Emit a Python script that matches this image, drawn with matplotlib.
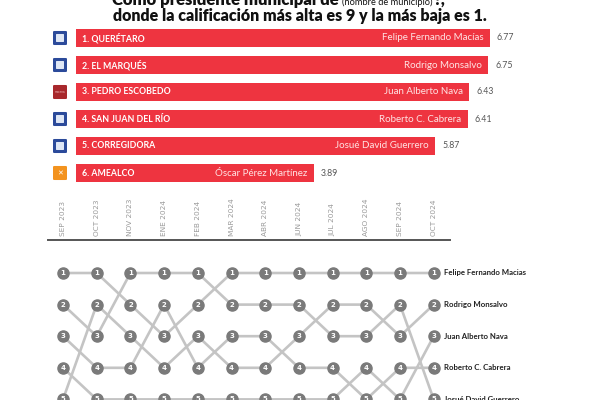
import matplotlib.pyplot as plt
from matplotlib.patches import FancyBboxPatch

# Top part: ranking bars
municipios = ["1. QUERÉTARO", "2. EL MARQUÉS", "3. PEDRO ESCOBEDO",
              "4. SAN JUAN DEL RÍO", "5. CORREGIDORA", "6. AMEALCO"]
presidentes = ["Felipe Fernando Macías", "Rodrigo Monsalvo", "Juan Alberto Nava",
               "Roberto C. Cabrera", "Josué David Guerrero", "Óscar Pérez Martínez"]
calificacion = [6.77, 6.75, 6.43, 6.41, 5.87, 3.89]
partidos = ["PAN", "PAN", "MORENA", "PAN", "PAN", "MC"]

# Bottom part: monthly position (bump chart)
meses = ["SEP 2023", "OCT 2023", "NOV 2023", "ENE 2024", "FEB 2024", "MAR 2024",
         "ABR 2024", "JUN 2024", "JUL 2024", "AGO 2024", "SEP 2024", "OCT 2024"]
nombres = ["Felipe Fernando Macias", "Rodrigo Monsalvo", "Juan Alberto Nava",
           "Roberto C. Cabrera", "Josué David Guerrero"]
pos_felipe = [1, 1, 2, 3, 2, 1, 1, 1, 1, 1, 1, 1]
pos_rodrigo = [5, 2, 3, 4, 3, 4, 4, 3, 2, 2, 3, 2]
pos_juan = [4, 5, 5, 5, 5, 5, 5, 5, 5, 4, 5, 3]
pos_roberto = [3, 4, 4, 2, 4, 3, 3, 4, 4, 5, 4, 4]
pos_josue = [2, 3, 1, 1, 1, 2, 2, 2, 3, 3, 2, 5]
posiciones = [pos_felipe, pos_rodrigo, pos_juan, pos_roberto, pos_josue]

W, H = 600, 400
fig = plt.figure(figsize=(6, 4), dpi=100)
fig.patch.set_facecolor("white")

# title (first line is cut at the top edge)
fig.text(339 / W, 1 - 5 / H, "Como presidente municipal de", family="Lato",
         weight="heavy", fontsize=12, color="#111111", va="baseline", ha="right")
fig.text(342 / W, 1 - 5 / H, "(nombre de municipio)", family="Lato",
         fontsize=6.7, color="#111111", va="baseline", ha="left")
fig.text(433 / W, 1 - 5 / H, "?,", family="Lato", weight="heavy",
         fontsize=12, color="#111111", va="baseline", ha="left")
fig.text(0.5, 1 - 21 / H, "donde la calificación más alta es 9 y la más baja es 1.",
         family="Lato", weight="heavy", fontsize=11.5, color="#111111",
         va="baseline", ha="center")

# --- bars ---
px_unit = 61.1
ax = fig.add_axes([76 / W, 1 - 186.5 / H, (W - 76) / W, 162 / H])
ax.set_xlim(0, (W - 76) / px_unit)
ax.set_ylim(5.5, -0.5)
ax.axis("off")
rojo = "#ee3440"
ax.barh(range(len(calificacion)), calificacion, height=0.64, color=rojo)
colores = {"PAN": ("#2b4a9a", "#dfe7f5"), "MORENA": ("#a8282c", "#d86060"),
           "MC": ("#f3931f", "#ffffff")}
for i in range(len(calificacion)):
    v = calificacion[i]
    ax.text(0.1, i, municipios[i], color="white", fontsize=6.3, weight="bold",
            family="Lato", va="center", ha="left")
    ax.text(v - 0.1, i, presidentes[i], color="#ffe4e4", fontsize=7,
            family="Lato", va="center", ha="right")
    ax.text(v + 0.12, i, f"{v:.2f}", color="#555555", fontsize=6.3,
            family="Lato", va="center", ha="left")
    # party logo
    fondo, interior = colores[partidos[i]]
    x0 = -23 / px_unit
    w = 14 / px_unit
    ax.add_patch(FancyBboxPatch((x0, i - 0.26), w, 0.52,
                                boxstyle="round,pad=0,rounding_size=0.03",
                                fc=fondo, ec="none", clip_on=False))
    if partidos[i] == "PAN":
        ax.add_patch(FancyBboxPatch((x0 + 0.04, i - 0.17), w - 0.08, 0.34,
                                    boxstyle="round,pad=0,rounding_size=0.03",
                                    fc=interior, ec="#2b4a9a", lw=0.8, clip_on=False))
    elif partidos[i] == "MC":
        ax.text(x0 + w / 2, i, "✕", color=interior, fontsize=5, ha="center",
                va="center", weight="bold")
    else:
        ax.text(x0 + w / 2, i, "morena", color="#f3c0c0", fontsize=2,
                ha="center", va="center")

# --- bump chart ---
col_px, col0 = 33.7, 63
row_px, row0 = 31.6, 273
top_px = 185
bx = fig.add_axes([0, 0, 1, (H - top_px) / H])
bx.set_xlim(-col0 / col_px, (W - col0) / col_px)
bx.set_ylim(1 + (H - row0) / row_px, 1 + (top_px - row0) / row_px)
bx.axis("off")

xs = list(range(len(meses)))
for p in posiciones:
    bx.plot(xs, p, color="#c4c4c4", lw=1.9, zorder=1, solid_capstyle="round")
for p in posiciones:
    bx.plot(xs, p, "o", color="#7a7a7a", ms=8, zorder=2, mec="#7a7a7a")
    for x, r in zip(xs, p):
        bx.text(x, r, str(r), color="white", fontsize=5, weight="bold",
                ha="center", va="center", zorder=3)

for n, p in zip(nombres, posiciones):
    bx.text(len(meses) - 1 + 0.3, p[-1], n, fontsize=5.6, weight="bold",
            family="Lato", color="#222222", ha="left", va="center")

for x, m in zip(xs, meses):
    bx.text(x, 1 + (236 - row0) / row_px, m, rotation=90, fontsize=5.3,
            color="#9a9a9a", ha="center", va="bottom")
y_line = 1 + (240 - row0) / row_px
bx.plot([(48 - col0) / col_px, (450 - col0) / col_px], [y_line, y_line],
        color="#555555", lw=1.4)

fig.savefig("out.png", dpi=100, facecolor="white")
